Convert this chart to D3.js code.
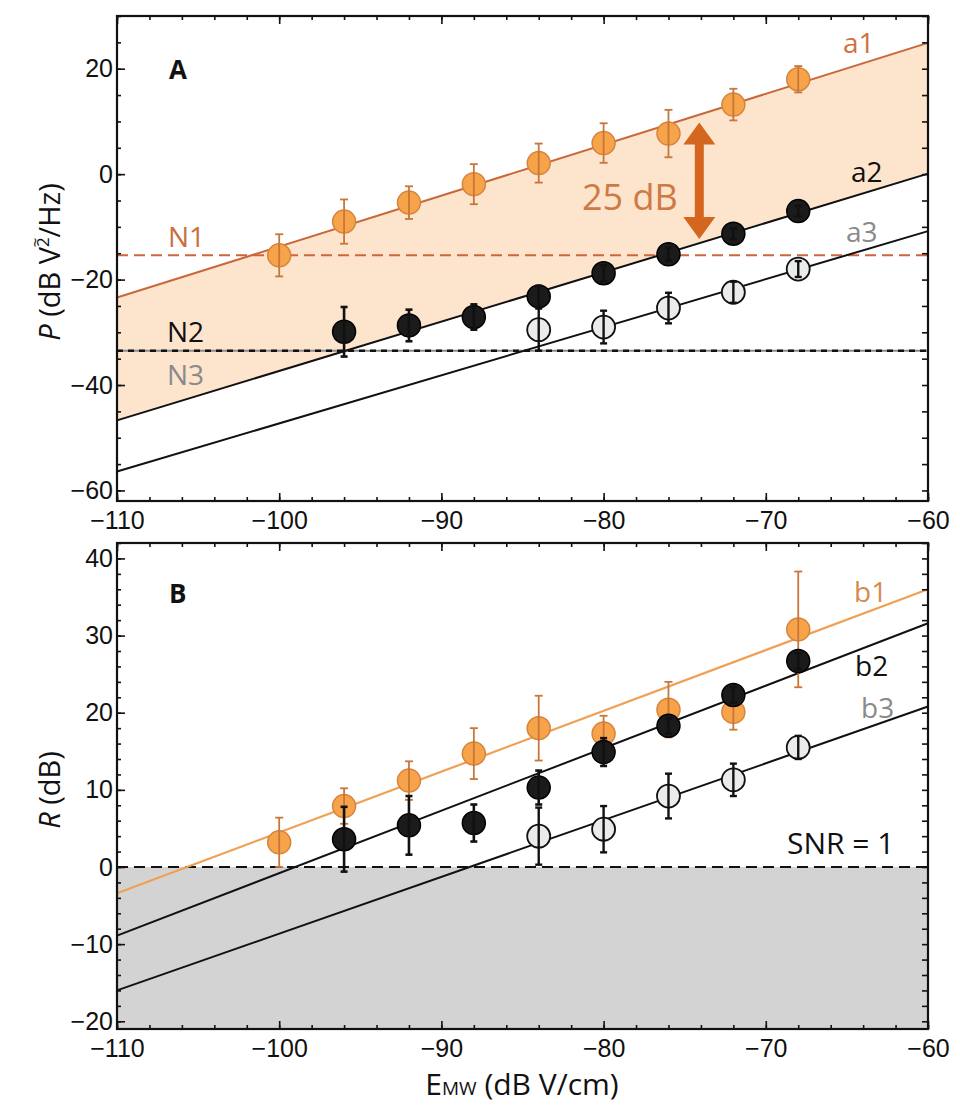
<!DOCTYPE html>
<html><head><meta charset="utf-8">
<script src="https://cdn.jsdelivr.net/npm/d3@7"></script>
<style>body{margin:0;background:#fff} svg{font-family:"Open Sans","Noto Sans",sans-serif}</style>
</head><body><svg id="c" width="960" height="1109"></svg>
<script>
// ---------- data ----------
const fieldX = [-100, -96, -92, -88, -84, -80, -76, -72, -68];
const a1 = [-15.4, -9.0, -5.4, -1.9, 2.1, 5.9, 7.7, 13.2, 18.0];
const a1Err = [4.0, 4.2, 3.1, 3.8, 3.7, 3.75, 4.5, 3.0, 2.5];
const a2X = [-96, -92, -88, -84, -80, -76, -72, -68];
const a2 = [-29.9, -28.7, -27.1, -23.2, -18.8, -15.2, -11.3, -7.0];
const a2Err = [4.7, 3.0, 2.4, 2.0, 1.5, 1.2, 1.0, 1.0];
const a3X = [-84, -80, -76, -72, -68];
const a3 = [-29.5, -29.0, -25.4, -22.4, -18.0];
const a3Err = [4.0, 3.1, 2.9, 2.0, 1.5];

const b1 = [3.2, 7.9, 11.2, 14.7, 18.0, 17.3, 20.4, 20.1, 30.8];
const b1Err = [3.2, 2.3, 2.5, 3.3, 4.2, 2.3, 3.6, 2.3, 7.5];
const b2X = [-96, -92, -88, -84, -80, -76, -72, -68];
const b2 = [3.6, 5.4, 5.7, 10.3, 14.9, 18.3, 22.3, 26.7];
const b2Err = [4.2, 3.8, 2.4, 2.2, 1.8, 1.0, 1.0, 1.0];
const b3X = [-84, -80, -76, -72, -68];
const b3 = [4.0, 4.9, 9.2, 11.3, 15.5];
const b3Err = [3.7, 3.0, 2.9, 2.1, 1.5];

// fit lines: values at x = -110 and x = -60
const fitX = [-110, -60];
const a1Fit = [-23.4, 24.9];
const a2Fit = [-46.7, 0.1];
const a3Fit = [-56.4, -10.8];
const b1Fit = [-3.4, 36.0];
const b2Fit = [-8.9, 31.6];
const b3Fit = [-16.0, 20.8];

const noiseN1 = -15.4;
const noiseN2 = -33.5;
const snrLevel = 0;
const arrowX = -74.1, arrowTop = 9.8, arrowBottom = -12.3;

const xTicks = [-110, -100, -90, -80, -70, -60];
const yTicksA = [-60, -40, -20, 0, 20];
const yTicksB = [-20, -10, 0, 10, 20, 30, 40];

// ---------- setup ----------
const svg = d3.select("#c");
const L = 117, R = 928;
const x = d3.scaleLinear().domain([-110, -60]).range([L, R]);
const yA = d3.scaleLinear().domain([-62, 30]).range([501, 16]);
const yB = d3.scaleLinear().domain([-21, 42]).range([1029, 543]);

const ORANGE_LINE = "#c9673a", ORANGE_FILL = "#f7a34a", ORANGE_EDGE = "#d5843e";
const B_ORANGE = "#f0a052";
const minus = d => d < 0 ? "\u2212" + Math.abs(d) : d;

function axes(y, yTicks, yMinorStep, top, bottom) {
  const g = svg.append("g");
  const minorX = d3.range(-110, -59, 2);
  const minorY = d3.range(y.domain()[0], y.domain()[1] + 0.001, 1).filter(v => v % yMinorStep === 0);
  const fs = "25px";
  g.append("g").attr("transform", `translate(0,${bottom})`)
    .call(d3.axisBottom(x).tickValues(minorX).tickSize(-4).tickFormat(""));
  g.append("g").attr("transform", `translate(0,${bottom})`)
    .call(d3.axisBottom(x).tickValues(xTicks).tickSize(-8).tickPadding(10).tickFormat(minus))
    .selectAll("text").attr("font-size", fs).attr("fill", "#111");
  g.append("g").attr("transform", `translate(0,${top})`)
    .call(d3.axisTop(x).tickValues(minorX).tickSize(-4).tickFormat(""));
  g.append("g").attr("transform", `translate(0,${top})`)
    .call(d3.axisTop(x).tickValues(xTicks).tickSize(-8).tickFormat(""));
  g.append("g").attr("transform", `translate(${L},0)`)
    .call(d3.axisLeft(y).tickValues(minorY).tickSize(-4).tickFormat(""));
  g.append("g").attr("transform", `translate(${L},0)`)
    .call(d3.axisLeft(y).tickValues(yTicks).tickSize(-8).tickPadding(4).tickFormat(minus))
    .selectAll("text").attr("font-size", fs).attr("fill", "#111");
  g.append("g").attr("transform", `translate(${R},0)`)
    .call(d3.axisRight(y).tickValues(minorY).tickSize(-6).tickFormat(""));
  g.selectAll(".domain").remove();
  g.selectAll("line").attr("stroke", "#111").attr("stroke-width", 1.6);
  g.append("rect").attr("x", L).attr("y", top).attr("width", R - L).attr("height", bottom - top)
    .attr("fill", "none").attr("stroke", "#111").attr("stroke-width", 2.2);
}

function fitLine(g, y, vals, color, w) {
  g.append("path").datum(fitX.map((d, i) => [d, vals[i]]))
    .attr("d", d3.line().x(d => x(d[0])).y(d => y(d[1])))
    .attr("fill", "none").attr("stroke", color).attr("stroke-width", w);
}

function points(g, y, xs, ys, errs, style) {
  const data = xs.map((d, i) => ({x: d, y: ys[i], e: errs[i]}));
  const s = {
    orange: {fill: ORANGE_FILL, stroke: ORANGE_EDGE, sw: 1.5, ec: "#c8763a", ew: 1.8, cap: 4},
    black: {fill: "#1b1b1b", stroke: "#000", sw: 1.5, ec: "#111", ew: 2.6, cap: 3.5},
    open: {fill: "#ebebeb", stroke: "#111", sw: 1.8, ec: "#111", ew: 2.4, cap: 3.5}
  }[style];
  const gg = g.append("g");
  gg.selectAll("circle").data(data).join("circle")
    .attr("cx", d => x(d.x)).attr("cy", d => y(d.y)).attr("r", 11.5)
    .attr("fill", s.fill).attr("stroke", s.stroke).attr("stroke-width", s.sw);
  const eb = gg.selectAll("g.eb").data(data).join("g").attr("class", "eb")
    .attr("stroke", s.ec).attr("stroke-width", s.ew);
  eb.append("line").attr("x1", d => x(d.x)).attr("x2", d => x(d.x))
    .attr("y1", d => y(d.y + d.e)).attr("y2", d => y(d.y - d.e));
  eb.append("line").attr("x1", d => x(d.x) - s.cap).attr("x2", d => x(d.x) + s.cap)
    .attr("y1", d => y(d.y + d.e)).attr("y2", d => y(d.y + d.e));
  eb.append("line").attr("x1", d => x(d.x) - s.cap).attr("x2", d => x(d.x) + s.cap)
    .attr("y1", d => y(d.y - d.e)).attr("y2", d => y(d.y - d.e));
}

function label(t, px, py, size, color, opts = {}) {
  const el = svg.append("text").attr("x", px).attr("y", py).attr("font-size", size)
    .attr("fill", color).text(t);
  if (opts.bold) el.attr("font-weight", "bold");
  if (opts.anchor) el.attr("text-anchor", opts.anchor);
  return el;
}

// ---------- Panel A ----------
const gA = svg.append("g");
const areaData = fitX.map((d, i) => ({x: d, hi: a1Fit[i], lo: a2Fit[i]}));
gA.append("path").datum(areaData)
  .attr("d", d3.area().x(d => x(d.x)).y0(d => yA(d.lo)).y1(d => yA(d.hi)))
  .attr("fill", "#fde4cd");
gA.append("line").attr("x1", x(-110)).attr("x2", x(-60)).attr("y1", yA(noiseN1)).attr("y2", yA(noiseN1))
  .attr("stroke", "#d0643a").attr("stroke-width", 2).attr("stroke-dasharray", "11,6");
gA.append("line").attr("x1", x(-110)).attr("x2", x(-60)).attr("y1", yA(noiseN2)).attr("y2", yA(noiseN2))
  .attr("stroke", "#8a8a8a").attr("stroke-width", 1.8);
gA.append("line").attr("x1", x(-110)).attr("x2", x(-60)).attr("y1", yA(noiseN2)).attr("y2", yA(noiseN2))
  .attr("stroke", "#111").attr("stroke-width", 2.4).attr("stroke-dasharray", "6,5");
fitLine(gA, yA, a1Fit, ORANGE_LINE, 2);
fitLine(gA, yA, a2Fit, "#111", 2);
fitLine(gA, yA, a3Fit, "#111", 2);
points(gA, yA, fieldX, a1, a1Err, "orange");
points(gA, yA, a3X, a3, a3Err, "open");
points(gA, yA, a2X, a2, a2Err, "black");

{
  const ax = x(arrowX), t = yA(arrowTop), b = yA(arrowBottom);
  const hw = 16, hl = 22, sw = 4.5;
  const p = [[ax, t], [ax + hw, t + hl], [ax + sw, t + hl], [ax + sw, b - hl], [ax + hw, b - hl], [ax, b],
             [ax - hw, b - hl], [ax - sw, b - hl], [ax - sw, t + hl], [ax - hw, t + hl]];
  gA.append("path").attr("d", d3.line()(p) + "Z").attr("fill", "#d4661f");
}
axes(yA, yTicksA, 5, 16, 501);

label("A", 169, 79, "26px", "#111", {bold: true});
label("N1", 168, 247, "28px", "#c8703e");
label("N2", 167, 342, "28px", "#111");
label("N3", 167, 385, "28px", "#8a8a8a");
label("a1", 843, 53, "28px", "#d0703e");
label("a2", 851, 182, "28px", "#111");
label("a3", 846, 242, "28px", "#8a8a8a");
label("25 dB", 582, 210, "36px", "#cf7a45");

{
  const t = svg.append("text").attr("transform", "translate(60,262) rotate(-90)")
    .attr("text-anchor", "middle").attr("font-size", "29px").attr("fill", "#111");
  t.append("tspan").attr("font-style", "italic").text("P");
  t.append("tspan").text(" (dB V");
  t.append("tspan").attr("font-size", "17px").attr("dy", "-11").text("2");
  t.append("tspan").attr("font-size", "17px").attr("dx", "-10").attr("dy", "-8").text("~");
  t.append("tspan").attr("dy", "19").text("/Hz)");
}

// ---------- Panel B ----------
const gB = svg.append("g");
gB.append("rect").attr("x", x(-110)).attr("y", yB(snrLevel)).attr("width", x(-60) - x(-110))
  .attr("height", yB(-21) - yB(snrLevel)).attr("fill", "#d3d3d3");
gB.append("line").attr("x1", x(-110)).attr("x2", x(-60)).attr("y1", yB(snrLevel)).attr("y2", yB(snrLevel))
  .attr("stroke", "#111").attr("stroke-width", 2).attr("stroke-dasharray", "11,6");
fitLine(gB, yB, b1Fit, B_ORANGE, 2.2);
fitLine(gB, yB, b2Fit, "#111", 2);
fitLine(gB, yB, b3Fit, "#111", 2);
points(gB, yB, fieldX, b1, b1Err, "orange");
points(gB, yB, b3X, b3, b3Err, "open");
points(gB, yB, b2X, b2, b2Err, "black");
axes(yB, yTicksB, 2, 543, 1029);

label("B", 169, 603, "26px", "#111", {bold: true});
label("b1", 854, 602, "28px", "#d68a4e");
label("b2", 855, 676, "28px", "#111");
label("b3", 861, 718, "28px", "#8a8a8a");
label("SNR = 1", 787, 854, "30px", "#111");

{
  const t = svg.append("text").attr("transform", "translate(60,790) rotate(-90)")
    .attr("text-anchor", "middle").attr("font-size", "29px").attr("fill", "#111");
  t.append("tspan").attr("font-style", "italic").text("R");
  t.append("tspan").text(" (dB)");
}
{
  const t = svg.append("text").attr("x", 522).attr("y", 1095)
    .attr("text-anchor", "middle").attr("font-size", "30px").attr("fill", "#111");
  t.append("tspan").text("E");
  t.append("tspan").attr("font-size", "19px").text("MW");
  t.append("tspan").text(" (dB V/cm)");
}
</script></body></html>
